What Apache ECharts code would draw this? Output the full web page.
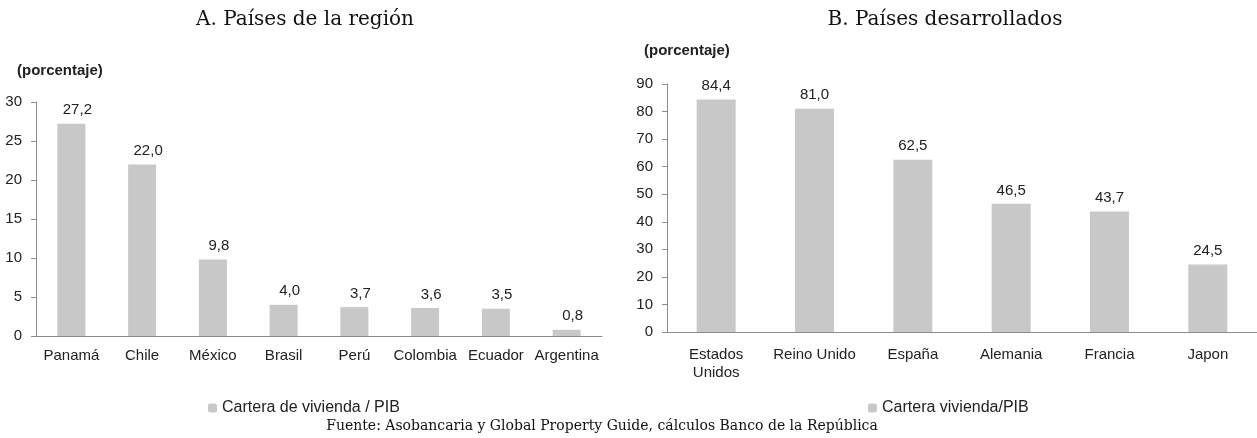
<!DOCTYPE html>
<html>
<head>
<meta charset="utf-8">
<script src="https://cdn.jsdelivr.net/npm/echarts@6/dist/echarts.min.js"></script>
<style>
html, body { margin: 0; padding: 0; background: #fff; }
#chart { width: 1257px; height: 438px; }
</style>
</head>
<body>
<div id="chart"></div>
<script>
// Panel A: países de la región
const regionCats = ['Panamá', 'Chile', 'México', 'Brasil', 'Perú', 'Colombia', 'Ecuador', 'Argentina']
const regionVals = [27.2, 22.0, 9.8, 4.0, 3.7, 3.6, 3.5, 0.8]
// Panel B: países desarrollados
const devCats = ['Estados\nUnidos', 'Reino Unido', 'España', 'Alemania', 'Francia', 'Japon']
const devVals = [84.4, 81.0, 62.5, 46.5, 43.7, 24.5]

const barColor = '#c8c8c8'
const axisColor = '#8c8c8c'
const textColor = '#222'
const sans = 'Liberation Sans, Arial, sans-serif'
const serif = 'DejaVu Serif, serif'

const fmt = v => v.toFixed(1).replace('.', ',')

const myChart = echarts.init(document.getElementById('chart'))

function yAxis(grid, max, interval) {
    return {
        type: 'value', gridIndex: grid, min: 0, max: max, interval: interval,
        axisLine: { show: true, lineStyle: { color: axisColor } },
        axisTick: { show: true, length: 5, lineStyle: { color: axisColor } },
        splitLine: { show: false },
        axisLabel: { color: textColor, fontFamily: sans, fontSize: 15, margin: 14 }
    }
}

function xAxis(grid, cats, margin) {
    return {
        type: 'category', gridIndex: grid, data: cats,
        axisLine: { lineStyle: { color: axisColor } },
        axisTick: { length: 5, lineStyle: { color: axisColor } },
        axisLabel: { color: textColor, fontFamily: sans, fontSize: 15, margin: margin, lineHeight: 18, interval: 0 }
    }
}

function barLabel(dx) {
    return {
        show: true, position: 'top', distance: 6, offset: [dx, 0],
        color: textColor, fontFamily: sans, fontSize: 15,
        formatter: p => fmt(p.value)
    }
}

const option = {
    animation: false,
    title: [
        { text: 'A. Países de la región', left: 300, top: 5, textAlign: 'center',
          textStyle: { fontFamily: serif, fontWeight: 'normal', fontSize: 20, color: '#111' } },
        { text: 'B. Países desarrollados', left: 940, top: 5, textAlign: 'center',
          textStyle: { fontFamily: serif, fontWeight: 'normal', fontSize: 20, color: '#111' } },
        { text: '(porcentaje)', left: 12, top: 58,
          textStyle: { fontFamily: sans, fontWeight: 'bold', fontSize: 15, color: textColor } },
        { text: '(porcentaje)', left: 639, top: 38,
          textStyle: { fontFamily: sans, fontWeight: 'bold', fontSize: 15, color: textColor } },
        { text: 'Fuente: Asobancaria y Global Property Guide, cálculos Banco de la República', left: 597, top: 414, textAlign: 'center',
          textStyle: { fontFamily: serif, fontWeight: 'normal', fontSize: 14, color: '#111' } }
    ],
    legend: [
        { data: ['Cartera de vivienda / PIB'], left: 203, top: 395, itemWidth: 9, itemHeight: 9, itemGap: 3,
          textStyle: { fontFamily: sans, fontSize: 16, color: textColor } },
        { data: ['Cartera vivienda/PIB'], left: 863, top: 395, itemWidth: 9, itemHeight: 9, itemGap: 3,
          textStyle: { fontFamily: sans, fontSize: 16, color: textColor } }
    ],
    grid: [
        { left: 36, top: 102, width: 566, height: 234 },
        { left: 667, top: 84, width: 590, height: 248 }
    ],
    xAxis: [xAxis(0, regionCats, 11), xAxis(1, devCats, 14)],
    yAxis: [yAxis(0, 30, 5), yAxis(1, 90, 10)],
    series: [
        { name: 'Cartera de vivienda / PIB', type: 'bar', xAxisIndex: 0, yAxisIndex: 0,
          data: regionVals, barWidth: 28, itemStyle: { color: barColor }, label: barLabel(6) },
        { name: 'Cartera vivienda/PIB', type: 'bar', xAxisIndex: 1, yAxisIndex: 1,
          data: devVals, barWidth: 39, itemStyle: { color: barColor }, label: barLabel(0) }
    ]
}
myChart.setOption(option)
</script>
</body>
</html>
